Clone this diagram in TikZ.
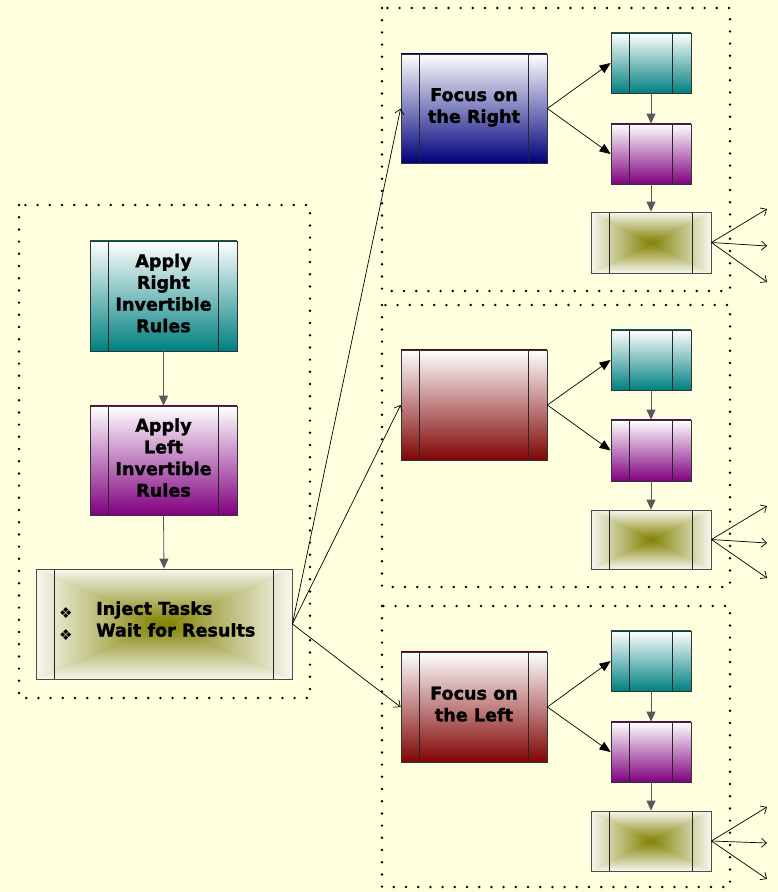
\documentclass[tikz,border=0pt]{standalone}
\usepackage{fontspec}
\setmainfont{DejaVu Sans}[BoldFeatures={FakeBold=1.6}]
\usetikzlibrary{arrows.meta}
\definecolor{bgyellow}{RGB}{255,255,224}
\definecolor{tealc}{RGB}{0,128,128}
\definecolor{purpc}{RGB}{128,0,128}
\definecolor{navyc}{RGB}{0,0,125}
\definecolor{maroonc}{RGB}{128,4,4}
\definecolor{olivec}{RGB}{128,128,0}
\definecolor{oliveedge}{RGB}{247,247,240}
\newcommand\innerlines{%
  \draw[black!85, line width=0.8pt]
    ([xshift=18.5pt]path picture bounding box.north west) -- ([xshift=18.5pt]path picture bounding box.south west)
    ([xshift=-18.5pt]path picture bounding box.north east) -- ([xshift=-18.5pt]path picture bounding box.south east);}
\newcommand\olivefill{%
  \coordinate (pSW) at (path picture bounding box.south west);
  \coordinate (pNW) at (path picture bounding box.north west);
  \coordinate (pSE) at (path picture bounding box.south east);
  \coordinate (pNE) at (path picture bounding box.north east);
  \coordinate (pC) at (path picture bounding box.center);
  \fill[olivec!45!oliveedge] (pSW) rectangle (pNE);
  \shade[left color=oliveedge, right color=olivec] (pSW) -- (pNW) -- (pC) -- cycle;
  \shade[left color=olivec, right color=oliveedge] (pSE) -- (pNE) -- (pC) -- cycle;
  \shade[top color=oliveedge, bottom color=olivec] (pNW) -- (pNE) -- (pC) -- cycle;
  \shade[top color=olivec, bottom color=oliveedge] (pSW) -- (pSE) -- (pC) -- cycle;}
\newcommand\bul{\makebox[37pt][l]{\raisebox{-4pt}{\mdseries\fontsize{15}{15}\selectfont ❖}}}
\tikzset{
  boxtext/.style={font=\fontsize{17.6}{21.7}\selectfont\bfseries, align=center, text=black},
  gbox/.style={draw=black!80, line width=0.8pt, inner sep=0pt, boxtext, text depth=6pt,
    top color=white, bottom color=#1,
    path picture={\innerlines},
    append after command={(\tikzlastnode.north west) edge[draw=#1!75!black, line width=1.3pt] (\tikzlastnode.north east)}},
  obox/.style={draw=black!70, line width=0.8pt, inner sep=0pt, boxtext,
    path picture={\olivefill\innerlines}},
  bigsize/.style={minimum width=146pt, minimum height=109pt},
  smallsize/.style={minimum width=80pt, minimum height=60pt},
  osize/.style={minimum width=120pt, minimum height=60pt},
  dotbox/.style={draw=black, line width=2.7pt, line cap=round, dash pattern=on 0pt off 12.2pt},
  flow/.style={draw=black!65, line width=0.8pt, -{Triangle[width=9pt,length=10pt]}},
  fan/.style={draw=black, line width=0.7pt, -{Triangle[width=9pt,length=11pt]}},
  thin/.style={draw=black, line width=0.7pt, -{Straight Barb[length=5pt,width=9pt]}},
}
\begin{document}
\begin{tikzpicture}[x=1pt,y=-1pt]
\fill[bgyellow] (0,0) rectangle (778,892);
\useasboundingbox (0,0) rectangle (778,892);

% dotted frames
\draw[dotbox] (19,205) rectangle (310,698);
\draw[dotbox] (382,8) rectangle (730,291);
\draw[dotbox] (382,305) rectangle (730,587);
\draw[dotbox] (382,606) rectangle (730,887);

% left column
\node[gbox=tealc, minimum width=147pt, minimum height=110pt] (ar) at (163.5,296) {Apply\\Right\\Invertible\\Rules};
\node[gbox=purpc, minimum width=147pt, minimum height=109pt] (al) at (163.5,460.5) {Apply\\Left\\Invertible\\Rules};
\node[obox, minimum width=256pt, minimum height=110pt] (inj) at (164,624) {};
\node[boxtext, align=left, anchor=west, inner sep=0pt] (injtxt) at (59,621)
  {\bul Inject Tasks\\\bul Wait for Results};
\draw[flow] (ar.south) -- (al.north);
\draw[flow] (al.south) -- (inj.north);

% top group
\node[gbox=navyc, bigsize] (fr) at (474,108.5) {Focus on\\the Right};
\node[gbox=tealc, smallsize] (t1) at (651,63) {};
\node[gbox=purpc, smallsize] (p1) at (651,154) {};
\node[obox, osize, minimum height=61pt] (o1) at (651,242.5) {};
\draw[fan] (fr.east) -- (t1.west);
\draw[fan] (fr.east) -- (p1.west);
\draw[flow] (t1.south) -- (p1.north);
\draw[flow] (p1.south) -- (o1.north);
\coordinate (e1a) at (767,209);
\coordinate (e1b) at (767,246);
\coordinate (e1c) at (767,282);
\draw[thin] (o1.east) -- (e1a);
\draw[thin] (o1.east) -- (e1b);
\draw[thin] (o1.east) -- (e1c);

% middle group
\node[gbox=maroonc, minimum width=146pt, minimum height=110pt] (fm) at (474,405) {};
\node[gbox=tealc, smallsize] (t2) at (651,360) {};
\node[gbox=purpc, smallsize, minimum height=61pt] (p2) at (651,450.5) {};
\node[obox, osize, minimum height=59pt] (o2) at (651,539.5) {};
\draw[fan] (fm.east) -- (t2.west);
\draw[fan] (fm.east) -- (p2.west);
\draw[flow] (t2.south) -- (p2.north);
\draw[flow] (p2.south) -- (o2.north);
\coordinate (e2a) at (767,506);
\coordinate (e2b) at (767,543);
\coordinate (e2c) at (767,578);
\draw[thin] (o2.east) -- (e2a);
\draw[thin] (o2.east) -- (e2b);
\draw[thin] (o2.east) -- (e2c);

% bottom group
\node[gbox=maroonc, minimum width=146pt, minimum height=110pt] (fl) at (474,707) {Focus on\\the Left};
\node[gbox=tealc, smallsize] (t3) at (651,661) {};
\node[gbox=purpc, smallsize] (p3) at (651,752) {};
\node[obox, osize] (o3) at (651,841) {};
\draw[fan] (fl.east) -- (t3.west);
\draw[fan] (fl.east) -- (p3.west);
\draw[flow] (t3.south) -- (p3.north);
\draw[flow] (p3.south) -- (o3.north);
\coordinate (e3a) at (767,807);
\coordinate (e3b) at (767,843);
\coordinate (e3c) at (767,879);
\draw[thin] (o3.east) -- (e3a);
\draw[thin] (o3.east) -- (e3b);
\draw[thin] (o3.east) -- (e3c);

% inject fan-out
\draw[thin] (inj.east) -- (fr.west);
\draw[thin] (inj.east) -- (fm.west);
\draw[thin] (inj.east) -- (fl.west);
\end{tikzpicture}
\end{document}
